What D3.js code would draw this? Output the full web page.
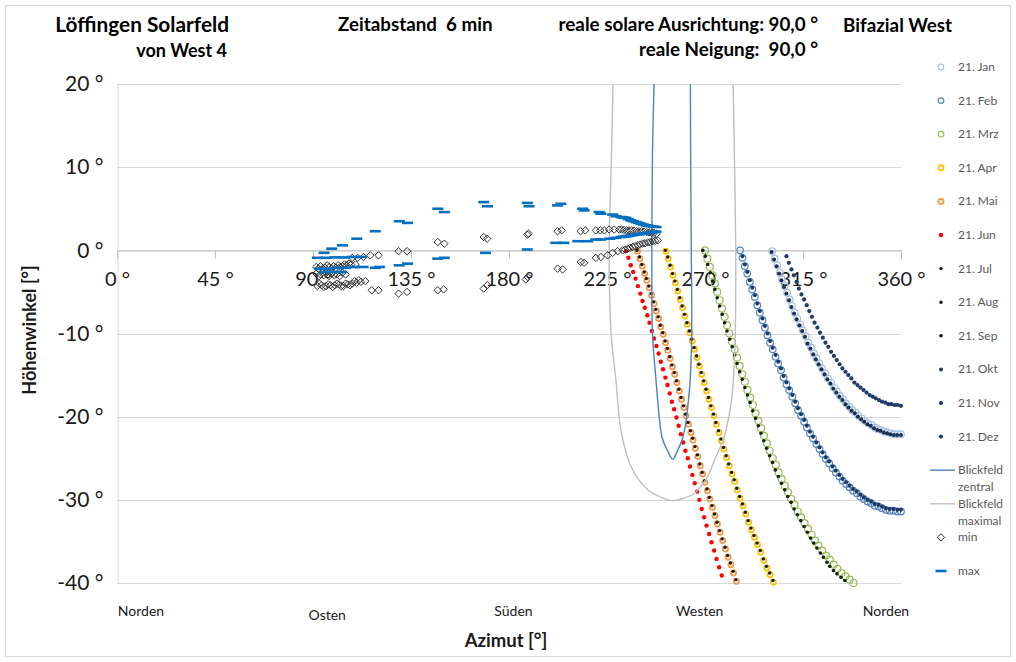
<!DOCTYPE html>
<html>
<head>
<meta charset="utf-8">
<script src="https://cdn.jsdelivr.net/npm/d3@7"></script>
<style>
  body { margin: 0; background: #fff; }
  svg text { font-family: Lato, "Open Sans", "Liberation Sans", sans-serif; }
</style>
</head>
<body>
<svg id="chart" width="1016" height="662"></svg>
<script>
// ---- axis values and labels ----
const xTicks = [0, 45, 90, 135, 180, 225, 270, 315, 360];
const yTicks = [20, 10, 0, -10, -20, -30, -40];
const directions = ["Norden", "Osten", "Süden", "Westen", "Norden"];
const monthNames = ["21. Jan", "21. Feb", "21. Mrz", "21. Apr", "21. Mai", "21. Jun",
                    "21. Jul", "21. Aug", "21. Sep", "21. Okt", "21. Nov", "21. Dez"];

// ---- reflected sun path per day: [azimuth °, elevation °], 6-minute steps ----
const jan = [[360.0,-22.1],[358.5,-22.1],[357.0,-22.1],[355.4,-22.0],[353.9,-21.9],[352.4,-21.8],[350.9,-21.6],[349.4,-21.5],[347.9,-21.3],[346.4,-21.0],[344.9,-20.8],[343.4,-20.5],[342.0,-20.2],[340.5,-19.9],[339.1,-19.5],[337.6,-19.2],[336.2,-18.8],[334.8,-18.4],[333.4,-17.9],[332.0,-17.5],[330.6,-17.0],[329.2,-16.5],[327.9,-15.9],[326.5,-15.4],[325.2,-14.8],[323.8,-14.2],[322.5,-13.6],[321.2,-13.0],[320.0,-12.4],[318.7,-11.7],[317.4,-11.1],[316.2,-10.3],[314.9,-9.6],[313.7,-8.9],[312.4,-8.2],[311.2,-7.5],[310.0,-6.7],[308.9,-5.9],[307.7,-5.1],[306.6,-4.3],[305.4,-3.5],[304.3,-2.7],[303.2,-1.8],[302.0,-1.0],[300.9,-0.1]];
const feb = [[360.0,-31.4],[358.3,-31.4],[356.5,-31.3],[354.8,-31.3],[353.0,-31.2],[351.3,-31.0],[349.6,-30.8],[347.9,-30.7],[346.3,-30.4],[344.6,-30.2],[342.9,-29.9],[341.3,-29.6],[339.7,-29.2],[338.0,-28.9],[336.4,-28.5],[334.8,-28.1],[333.2,-27.7],[331.7,-27.2],[330.1,-26.7],[328.6,-26.2],[327.0,-25.6],[325.5,-25.1],[324.0,-24.5],[322.6,-23.9],[321.1,-23.3],[319.6,-22.6],[318.2,-22.0],[316.8,-21.3],[315.5,-20.6],[314.1,-19.9],[312.7,-19.2],[311.4,-18.4],[310.1,-17.6],[308.7,-16.8],[307.4,-16.1],[306.1,-15.3],[304.9,-14.4],[303.6,-13.6],[302.4,-12.8],[301.1,-11.9],[299.9,-11.1],[298.7,-10.2],[297.5,-9.3],[296.4,-8.4],[295.2,-7.5],[294.0,-6.6],[292.9,-5.6],[291.7,-4.7],[290.6,-3.8],[289.4,-2.8],[288.3,-1.9],[287.2,-0.9],[286.1,0.0]];
const mrz = [[338.2,-40.0],[336.4,-39.6],[334.5,-39.2],[332.7,-38.8],[330.8,-38.3],[329.1,-37.8],[327.3,-37.2],[325.6,-36.7],[323.8,-36.1],[322.1,-35.5],[320.5,-34.9],[318.9,-34.2],[317.3,-33.5],[315.7,-32.8],[314.1,-32.1],[312.6,-31.4],[311.1,-30.6],[309.6,-29.9],[308.1,-29.1],[306.6,-28.3],[305.2,-27.5],[303.8,-26.7],[302.5,-25.8],[301.1,-25.0],[299.7,-24.1],[298.4,-23.2],[297.1,-22.3],[295.8,-21.4],[294.5,-20.5],[293.2,-19.6],[292.0,-18.6],[290.8,-17.7],[289.5,-16.8],[288.3,-15.8],[287.1,-14.9],[285.9,-13.9],[284.7,-12.9],[283.6,-11.9],[282.4,-11.0],[281.2,-10.0],[280.1,-9.0],[279.0,-8.0],[277.8,-7.0],[276.7,-6.0],[275.6,-5.0],[274.5,-4.0],[273.4,-3.0],[272.2,-2.0],[271.1,-1.0],[270.0,0.0]];
const apr = [[301.4,-39.9],[299.9,-39.0],[298.4,-38.2],[297.0,-37.3],[295.6,-36.3],[294.1,-35.4],[292.7,-34.5],[291.3,-33.6],[290.0,-32.7],[288.7,-31.7],[287.4,-30.7],[286.1,-29.8],[284.8,-28.8],[283.6,-27.8],[282.4,-26.9],[281.1,-25.9],[279.9,-24.9],[278.7,-23.9],[277.5,-22.9],[276.4,-21.9],[275.2,-20.9],[274.1,-19.9],[272.9,-18.9],[271.8,-17.9],[270.7,-16.9],[269.6,-15.9],[268.5,-14.9],[267.4,-13.9],[266.3,-12.9],[265.2,-11.9],[264.1,-10.9],[263.0,-9.9],[261.9,-8.9],[260.8,-7.9],[259.7,-6.9],[258.6,-5.9],[257.5,-4.9],[256.4,-3.9],[255.3,-3.0],[254.2,-2.0],[253.1,-1.0],[252.0,-0.1]];
const mai = [[284.4,-39.8],[283.1,-38.8],[281.9,-37.8],[280.6,-36.9],[279.4,-35.9],[278.1,-34.9],[276.9,-33.9],[275.7,-32.9],[274.6,-31.9],[273.4,-30.9],[272.2,-29.9],[271.1,-28.9],[270.0,-27.9],[268.9,-26.9],[267.8,-25.9],[266.7,-24.8],[265.6,-23.8],[264.5,-22.8],[263.5,-21.9],[262.4,-20.9],[261.3,-19.9],[260.3,-18.9],[259.2,-17.9],[258.2,-16.9],[257.1,-15.9],[256.1,-14.9],[255.0,-14.0],[254.0,-13.0],[252.9,-12.0],[251.9,-11.1],[250.8,-10.1],[249.7,-9.2],[248.7,-8.2],[247.6,-7.3],[246.6,-6.4],[245.5,-5.4],[244.4,-4.5],[243.3,-3.6],[242.3,-2.8],[241.2,-1.9],[240.1,-1.0],[239.0,-0.1]];
const jun = [[277.7,-39.1],[276.5,-38.1],[275.3,-37.1],[274.2,-36.1],[273.0,-35.1],[271.9,-34.1],[270.7,-33.1],[269.6,-32.1],[268.5,-31.1],[267.4,-30.0],[266.4,-29.0],[265.3,-28.0],[264.2,-27.0],[263.1,-26.0],[262.1,-25.0],[261.0,-24.1],[260.0,-23.1],[258.9,-22.1],[257.9,-21.1],[256.9,-20.1],[255.8,-19.1],[254.8,-18.2],[253.8,-17.2],[252.8,-16.2],[251.8,-15.3],[250.7,-14.3],[249.7,-13.4],[248.7,-12.4],[247.7,-11.5],[246.6,-10.6],[245.6,-9.7],[244.5,-8.7],[243.5,-7.8],[242.4,-6.9],[241.3,-6.1],[240.3,-5.2],[239.2,-4.3],[238.1,-3.4],[237.0,-2.6],[235.9,-1.8],[234.8,-0.9],[233.7,-0.1]];
const jul = [[284.2,-39.6],[282.9,-38.6],[281.7,-37.6],[280.4,-36.7],[279.2,-35.7],[277.9,-34.7],[276.7,-33.7],[275.5,-32.7],[274.4,-31.7],[273.2,-30.7],[272.0,-29.7],[270.9,-28.7],[269.8,-27.7],[268.7,-26.7],[267.6,-25.7],[266.5,-24.6],[265.4,-23.6],[264.3,-22.6],[263.3,-21.7],[262.2,-20.7],[261.1,-19.7],[260.1,-18.7],[259.0,-17.7],[258.0,-16.7],[256.9,-15.7],[255.9,-14.7],[254.8,-13.8],[253.8,-12.8],[252.7,-11.8],[251.7,-10.9],[250.6,-9.9],[249.5,-9.0],[248.5,-8.0],[247.4,-7.1],[246.4,-6.2],[245.3,-5.2],[244.2,-4.3],[243.1,-3.4],[242.1,-2.6],[241.0,-1.7],[239.9,-0.8],[238.8,0.0]];
const aug = [[301.2,-39.7],[299.7,-38.8],[298.2,-38.0],[296.8,-37.1],[295.4,-36.1],[293.9,-35.2],[292.5,-34.3],[291.1,-33.4],[289.8,-32.5],[288.5,-31.5],[287.2,-30.5],[285.9,-29.6],[284.6,-28.6],[283.4,-27.6],[282.2,-26.7],[280.9,-25.7],[279.7,-24.7],[278.5,-23.7],[277.3,-22.7],[276.2,-21.7],[275.0,-20.7],[273.9,-19.7],[272.7,-18.7],[271.6,-17.7],[270.5,-16.7],[269.4,-15.7],[268.3,-14.7],[267.2,-13.7],[266.1,-12.7],[265.0,-11.7],[263.9,-10.7],[262.8,-9.7],[261.7,-8.7],[260.6,-7.7],[259.5,-6.7],[258.4,-5.7],[257.3,-4.7],[256.2,-3.7],[255.1,-2.8],[254.0,-1.8],[252.9,-0.8],[251.8,0.0]];
const sep = [[334.2,-39.7],[332.4,-39.3],[330.6,-38.9],[329.0,-38.5],[327.3,-38.0],[326.0,-37.5],[324.4,-36.9],[323.0,-36.4],[321.4,-35.8],[319.9,-35.2],[318.5,-34.6],[317.0,-33.9],[315.5,-33.2],[314.0,-32.5],[312.4,-31.8],[310.9,-31.1],[309.5,-30.3],[308.0,-29.6],[306.6,-28.8],[305.1,-28.0],[303.7,-27.2],[302.3,-26.4],[301.0,-25.5],[299.7,-24.7],[298.3,-23.8],[297.0,-22.9],[295.7,-22.0],[294.5,-21.1],[293.2,-20.2],[291.9,-19.3],[290.7,-18.3],[289.5,-17.4],[288.3,-16.5],[287.1,-15.5],[285.9,-14.6],[284.7,-13.6],[283.6,-12.6],[282.5,-11.6],[281.3,-10.7],[280.1,-9.7],[279.0,-8.7],[277.9,-7.7],[276.7,-6.7],[275.6,-5.7],[274.5,-4.7],[273.4,-3.7],[272.4,-2.7],[271.2,-1.7],[270.1,-0.7],[269.0,0.0]];
const okt = [[360.0,-31.2],[358.3,-31.2],[356.5,-31.1],[354.8,-31.1],[353.0,-31.0],[351.3,-30.8],[349.6,-30.6],[347.9,-30.5],[346.3,-30.2],[344.6,-30.0],[342.9,-29.7],[341.3,-29.4],[339.7,-29.0],[338.0,-28.7],[336.4,-28.3],[334.8,-27.9],[333.2,-27.5],[331.7,-27.0],[330.1,-26.5],[328.6,-26.0],[327.0,-25.4],[325.5,-24.9],[324.0,-24.3],[322.6,-23.7],[321.1,-23.1],[319.6,-22.4],[318.2,-21.8],[316.8,-21.1],[315.5,-20.4],[314.1,-19.7],[312.7,-19.0],[311.4,-18.2],[310.1,-17.4],[308.7,-16.6],[307.4,-15.9],[306.1,-15.1],[304.9,-14.2],[303.6,-13.4],[302.4,-12.6],[301.1,-11.7],[299.9,-10.9],[298.7,-10.0],[297.5,-9.1],[296.4,-8.2],[295.2,-7.3],[294.0,-6.4],[292.9,-5.4],[291.7,-4.5],[290.6,-3.6],[289.4,-2.6],[288.3,-1.7],[287.2,-0.7]];
const nov = [[360.0,-22.2],[358.2,-22.2],[356.7,-22.2],[355.1,-22.1],[353.6,-22.0],[352.1,-21.9],[350.6,-21.7],[349.1,-21.6],[347.6,-21.4],[346.1,-21.1],[344.6,-20.9],[343.1,-20.6],[341.7,-20.3],[340.2,-20.0],[338.8,-19.6],[337.3,-19.3],[335.9,-18.9],[334.5,-18.5],[333.1,-18.0],[331.7,-17.6],[330.3,-17.1],[328.9,-16.6],[327.6,-16.0],[326.2,-15.5],[324.9,-14.9],[323.5,-14.3],[322.2,-13.7],[320.9,-13.1],[319.7,-12.5],[318.4,-11.8],[317.1,-11.2],[315.9,-10.4],[314.6,-9.7],[313.4,-9.0],[312.1,-8.3],[310.9,-7.6],[309.7,-6.8],[308.6,-6.0],[307.4,-5.2],[306.3,-4.4],[305.1,-3.6],[304.0,-2.8],[302.9,-1.9],[301.7,-1.1],[300.6,-0.2]];
const dez = [[360.0,-18.7],[358.5,-18.6],[357.1,-18.6],[355.6,-18.5],[354.2,-18.5],[352.8,-18.3],[351.3,-18.2],[349.9,-18.0],[348.4,-17.8],[347.0,-17.6],[345.6,-17.4],[344.2,-17.1],[342.8,-16.8],[341.4,-16.5],[340.0,-16.2],[338.6,-15.9],[337.2,-15.4],[335.8,-15.0],[334.5,-14.6],[333.1,-14.2],[331.8,-13.7],[330.5,-13.2],[329.2,-12.7],[327.9,-12.2],[326.6,-11.6],[325.3,-11.1],[324.1,-10.5],[322.8,-9.9],[321.6,-9.3],[320.3,-8.7],[319.1,-8.0],[317.9,-7.3],[316.7,-6.6],[315.5,-5.9],[314.3,-5.3],[313.1,-4.6],[312.0,-3.8],[310.8,-3.0],[309.7,-2.3],[308.5,-1.5],[307.4,-0.7]];

// ---- field of view outlines [azimuth °, elevation °] ----
const blickZentral = [[246.6,20.0],[245.9,12.0],[245.6,0.0],[245.9,-10.0],[247.5,-15.6],[248.9,-19.8],[250.3,-22.5],[252.6,-24.0],[255.2,-25.1],[257.2,-24.2],[259.8,-22.5],[261.4,-20.4],[262.4,-18.0],[263.2,-15.6],[263.9,-10.0],[263.7,0.0],[263.4,12.0],[263.3,20.0]];
const blickMaximal = [[227.8,20.0],[226.9,10.0],[226.0,0.0],[226.9,-10.0],[229.1,-15.6],[231.4,-21.6],[236.0,-26.0],[243.7,-28.8],[249.8,-29.7],[255.2,-30.1],[260.4,-29.8],[265.2,-29.2],[271.0,-27.3],[274.4,-25.2],[278.3,-22.8],[280.2,-21.0],[282.4,-17.6],[283.2,-14.8],[283.9,-10.0],[284.1,0.0],[283.6,10.0],[282.9,20.0]];

// ---- panel edge points: min (diamonds) and max (dashes) ----
const minPts = [
  [108.0,-0.9],[110.5,-0.9],[113.2,-0.8],[116.3,-0.6],[120.1,-0.6],[129.3,-0.1],[133.2,-0.1],[147.3,1.0],[150.3,0.8],[168.4,1.6],[170.0,1.4],[188.4,1.9],[189.0,2.0],[202.3,2.3],[204.2,2.4],[212.9,2.3],[215.0,2.4],[219.9,2.4],[221.9,2.4],[223.7,2.4],[226.0,2.5],[228.3,2.5],[230.6,2.5],[231.7,2.5],[232.8,2.45],[234.0,2.4],[235.1,2.4],[236.3,2.4],[237.4,2.35],[238.6,2.3],[239.7,2.3],[240.9,2.3],[242.0,2.25],[243.2,2.2],[244.3,2.15],[245.5,2.1],[246.6,2.1],[247.8,2.0],
  [91.5,-2.0],[92.5,-2.2],[93.5,-1.9],[94.5,-2.2],[95.5,-2.1],[96.5,-1.8],[97.5,-2.0],[98.5,-2.2],[99.5,-1.9],[100.5,-2.1],[101.5,-1.8],[102.5,-2.0],[103.5,-1.9],[104.5,-1.7],[105.5,-1.8],[106.5,-1.6],[107.5,-1.7],[109.5,-1.7],
  [91.5,-2.8],[92.8,-3.1],[93.5,-2.9],[95.0,-3.0],[96.0,-2.7],[97.3,-3.1],[98.5,-2.8],[99.8,-3.0],[101.0,-2.9],[102.3,-3.1],[103.5,-2.7],[105.0,-2.9],
  [92.0,-4.3],[93.0,-4.0],[94.0,-4.2],[95.0,-4.4],[96.0,-4.3],[97.0,-4.1],[98.0,-4.2],[99.0,-4.4],[100.0,-4.2],[101.0,-4.0],[102.0,-4.1],[103.0,-4.3],[104.0,-4.3],[105.0,-4.0],[106.0,-4.1],[107.0,-4.2],[108.0,-4.0],[109.0,-3.7],[110.0,-3.9],[111.0,-3.6],[112.0,-3.8],[114.0,-3.7],[117.0,-4.8],[120.1,-4.8],[129.3,-5.2],[133.2,-5.0],[147.3,-4.8],[150.0,-4.7],[168.4,-4.6],[170.0,-4.2],[187.7,-3.5],[188.6,-3.2],[202.3,-2.2],[204.6,-2.3],[213.0,-1.4],[214.5,-1.5],[219.9,-0.9],[222.2,-0.8],[225.3,-0.6],[227.6,-0.3],[229.9,-0.1],[232.2,0.0],[233.3,0.1],[234.5,0.2],[235.6,0.3],[236.8,0.4],[237.9,0.5],[239.1,0.6],[240.2,0.7],[241.4,0.8],[242.5,0.85],[243.7,0.95],[244.8,1.0],[246.0,1.1],[247.1,1.15],[248.3,1.2]
];
const maxPts = [
  [95.1,-0.3],[98.6,0.2],[103.5,0.6],[110.1,1.4],[118.6,2.3],[129.6,3.5],[133.4,3.3],[147.3,5.0],[150.3,4.6],[168.4,5.8],[170.1,5.3],[188.4,5.7],[189.2,5.3],[202.3,5.4],[203.8,5.6],[213.8,5.0],[214.5,4.8],[221.4,4.6],[222.2,4.4],[227.6,4.3],[229.1,4.1],[231.4,4.0],[232.5,3.95],[233.7,3.9],[234.8,3.75],[236.0,3.6],[237.1,3.5],[238.3,3.4],[239.4,3.3],[240.6,3.2],[241.7,3.1],[242.9,3.0],[244.0,2.95],[245.2,2.9],[246.3,2.85],[247.5,2.8],
  [92.0,-0.9],[96.0,-0.9],[100.0,-0.85],[104.0,-0.85],[108.0,-0.8],[112.0,-0.8],
  [93.0,-2.2],[97.0,-2.2],[101.0,-2.1],[105.0,-2.1],[109.0,-2.0],[113.0,-2.0],[118.6,-2.1],[120.5,-2.0],
  [95.0,-2.6],[99.0,-2.6],[103.0,-2.6],
  [129.6,-1.8],[133.4,-1.6],[147.3,-1.0],[150.3,-0.9],[169.2,-0.3],[188.4,0.1],[201.5,0.9],[205.2,0.9],[211.6,1.1],[216.2,1.1],[219.9,1.3],[222.2,1.3],[226.3,1.4],[229.1,1.5],[231.4,1.6],[232.5,1.65],[233.7,1.7],[234.8,1.72],[236.0,1.8],[237.1,1.85],[238.3,1.9],[239.4,1.93],[240.6,2.0],[241.7,2.0],[242.9,2.05],[244.0,2.1],[245.2,2.15],[246.3,2.2],[247.5,2.25]
];

const monthSeries = [jan, feb, mrz, apr, mai, jun, jul, aug, sep, okt, nov, dez];

// marker look per month: ring = open circle, dot = filled circle
const monthStyle = [
  { kind: "ring", r: 3.3, color: "#a8c1e0", w: 1.2 },
  { kind: "ring", r: 3.3, color: "#5285c4", w: 1.2 },
  { kind: "ring", r: 3.5, color: "#9bbb59", w: 1.2 },
  { kind: "ring", r: 2.6, color: "#ffc000", w: 1.7 },
  { kind: "ring", r: 2.6, color: "#f79646", w: 1.7 },
  { kind: "dot",  r: 2.2, color: "#ff0000" },
  { kind: "dot",  r: 1.7, color: "#2a1405" },
  { kind: "dot",  r: 1.7, color: "#1c1700" },
  { kind: "dot",  r: 1.8, color: "#142008" },
  { kind: "dot",  r: 2.0, color: "#1f3864" },
  { kind: "dot",  r: 2.0, color: "#1b2f55" },
  { kind: "dot",  r: 2.1, color: "#213c66" }
];

const svg = d3.select("#chart");
const W = 1016, H = 662;

// chart frame
svg.append("rect").attr("x", 5.5).attr("y", 5.5).attr("width", W - 11).attr("height", H - 11)
  .attr("fill", "#fff").attr("stroke", "#d9d9d9").attr("stroke-width", 1);

const x = d3.scaleLinear().domain([0, 360]).range([117, 901]);
const y = d3.scaleLinear().domain([-40, 20]).range([583, 84]);

svg.append("clipPath").attr("id", "plotClip").append("rect")
  .attr("x", x(0)).attr("y", y(20)).attr("width", x(360) - x(0)).attr("height", y(-40) - y(20));

// horizontal gridlines
svg.append("g").selectAll("line").data(yTicks).join("line")
  .attr("x1", x(0)).attr("x2", x(360))
  .attr("y1", d => Math.round(y(d)) + 0.5).attr("y2", d => Math.round(y(d)) + 0.5)
  .attr("stroke", "#d9d9d9").attr("stroke-width", 1);

// vertical value axis
const yAxis = d3.axisLeft(y).tickValues(yTicks).tickSize(0).tickPadding(14)
  .tickFormat(d => d + " °");
const gy = svg.append("g").attr("transform", `translate(${Math.round(x(0)) + 0.5},0)`).call(yAxis);
gy.select(".domain").attr("stroke", "#d9d9d9");
gy.selectAll("text").attr("font-size", 21).attr("fill", "#1a1a1a");

// horizontal axis crossing at 0 °
const xAxis = d3.axisBottom(x).tickValues(xTicks).tickSize(8).tickPadding(13)
  .tickFormat(d => d + " °");
const gx = svg.append("g").attr("transform", `translate(0,${Math.round(y(0)) + 0.5})`).call(xAxis);
gx.select(".domain").attr("stroke", "#bfbfbf");
gx.selectAll(".tick line").attr("stroke", "#bfbfbf");
gx.selectAll("text").attr("font-size", 20).attr("fill", "#1a1a1a");

// compass directions under the plot
const dirScale = d3.scalePoint().domain(d3.range(directions.length)).range([141, 886]);
svg.append("g").selectAll("text").data(directions).join("text")
  .attr("x", (d, i) => dirScale(i)).attr("y", (d, i) => i === 1 ? 620 : 616)
  .attr("text-anchor", "middle").attr("font-size", 14).attr("fill", "#1a1a1a")
  .text(d => d);

// axis titles
svg.append("text").attr("x", 506).attr("y", 647).attr("text-anchor", "middle")
  .attr("font-size", 18.5).attr("font-weight", "bold").attr("fill", "#1a1a1a").text("Azimut [°]");
svg.append("text").attr("transform", "translate(36,330) rotate(-90)").attr("text-anchor", "middle")
  .attr("font-size", 18).attr("font-weight", "bold").attr("fill", "#1a1a1a").text("Höhenwinkel [°]");

// header texts
const header = svg.append("g").attr("font-weight", "bold").attr("font-size", 18.8).attr("fill", "#000");
header.append("text").attr("x", 229).attr("y", 32).attr("text-anchor", "end").attr("font-size", 20.8).text("Löffingen Solarfeld");
header.append("text").attr("x", 227).attr("y", 57).attr("text-anchor", "end").attr("font-size", 18).text("von West 4");
header.append("text").attr("x", 338).attr("y", 31).attr("xml:space", "preserve").text("Zeitabstand  6 min");
header.append("text").attr("x", 818).attr("y", 31).attr("text-anchor", "end").text("reale solare Ausrichtung: 90,0 °");
header.append("text").attr("x", 818).attr("y", 56).attr("text-anchor", "end").attr("xml:space", "preserve").text("reale Neigung:  90,0 °");
header.append("text").attr("x", 843).attr("y", 32).text("Bifazial West");

// ---- month series ----
function drawMarker(sel, st) {
  if (st.kind === "ring") {
    sel.attr("r", st.r).attr("fill", "none").attr("stroke", st.color).attr("stroke-width", st.w);
  } else {
    sel.attr("r", st.r).attr("fill", st.color).attr("stroke", "none");
  }
}
const plot = svg.append("g");
monthSeries.forEach((data, i) => {
  const g = plot.append("g");
  drawMarker(g.selectAll("circle").data(data).join("circle")
    .attr("cx", d => x(d[0])).attr("cy", d => y(d[1])), monthStyle[i]);
});

// ---- field of view outlines ----
const line = d3.line().x(d => x(d[0])).y(d => y(d[1])).curve(d3.curveCatmullRom.alpha(0.5));
const clipped = svg.append("g").attr("clip-path", "url(#plotClip)");
clipped.append("path").datum(blickZentral).attr("d", line)
  .attr("fill", "none").attr("stroke", "#4f81bd").attr("stroke-width", 1.4);
clipped.append("path").datum(blickMaximal).attr("d", line)
  .attr("fill", "none").attr("stroke", "#bfbfbf").attr("stroke-width", 1.4);

// ---- min / max markers ----
const diamond = "M0,-3.7L3.7,0L0,3.7L-3.7,0Z";
svg.append("g").selectAll("path").data(minPts).join("path")
  .attr("d", diamond).attr("transform", d => `translate(${x(d[0])},${y(d[1])})`)
  .attr("fill", "none").attr("stroke", "#333").attr("stroke-width", 1);
svg.append("g").selectAll("rect").data(maxPts).join("rect")
  .attr("x", d => x(d[0]) - 5.5).attr("y", d => y(d[1]) - 1.3)
  .attr("width", 11).attr("height", 2.6).attr("fill", "#0070c0");

// ---- legend ----
const legend = svg.append("g").attr("font-size", 12).attr("fill", "#595959");
const rowY = i => 67 + i * 33.6;
monthNames.forEach((name, i) => {
  const c = legend.append("circle").attr("cx", 941).attr("cy", rowY(i));
  const st = monthStyle[i];
  drawMarker(c, { kind: st.kind, r: st.kind === "ring" ? Math.min(st.r, 2.8) : st.r, color: st.color, w: st.w });
  legend.append("text").attr("x", 958).attr("y", rowY(i) + 4).text(name);
});
// line entries (two text lines each)
[["Blickfeld", "zentral", "#4f81bd"], ["Blickfeld", "maximal", "#bfbfbf"]].forEach((e, k) => {
  const yy = rowY(12 + k);
  legend.append("line").attr("x1", 930).attr("x2", 955).attr("y1", yy).attr("y2", yy)
    .attr("stroke", e[2]).attr("stroke-width", 1.4);
  legend.append("text").attr("x", 958).attr("y", yy + 4).text(e[0]);
  legend.append("text").attr("x", 958).attr("y", yy + 21).text(e[1]);
});
legend.append("path").attr("d", diamond).attr("transform", `translate(941,${rowY(14)})`)
  .attr("fill", "none").attr("stroke", "#333").attr("stroke-width", 1);
legend.append("text").attr("x", 958).attr("y", rowY(14) + 4).text("min");
legend.append("rect").attr("x", 935.5).attr("y", rowY(15) - 1.3).attr("width", 11).attr("height", 2.6).attr("fill", "#0070c0");
legend.append("text").attr("x", 958).attr("y", rowY(15) + 4).text("max");
</script>
</body>
</html>
